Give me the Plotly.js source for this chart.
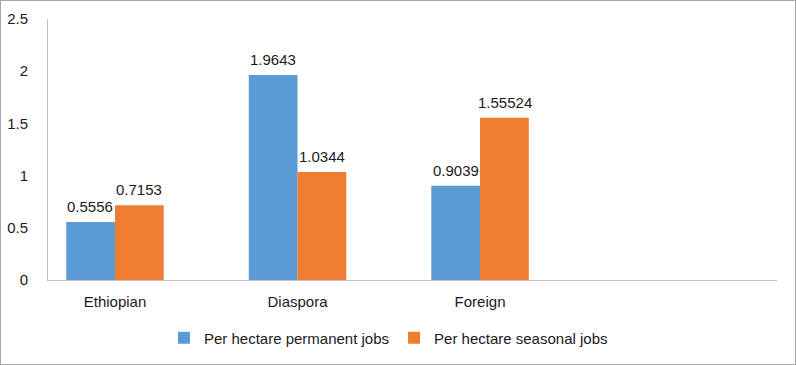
<!DOCTYPE html>
<html>
<head>
<meta charset="utf-8">
<script src="https://cdn.plot.ly/plotly-3.0.1.min.js"></script>
<style>
html,body{margin:0;padding:0;background:#fff;}
#frame{position:absolute;left:0;top:0;width:794px;height:363px;border:1px solid #a6a6a6;}
#chart{position:absolute;left:-1px;top:-1px;width:796px;height:365px;}
</style>
</head>
<body>
<div id="frame"><div id="chart"></div></div>
<script>
const categories = ["Ethiopian", "Diaspora", "Foreign"];
const permanentJobs = [0.5556, 1.9643, 0.9039];
const seasonalJobs = [0.7153, 1.0344, 1.55524];
const permanentLabels = ["0.5556", "1.9643", "0.9039"];
const seasonalLabels = ["0.7153", "1.0344", "1.55524"];
const seriesNames = ["Per hectare permanent jobs", "Per hectare seasonal jobs"];
const yTicks = [0, 0.5, 1, 1.5, 2, 2.5];
const yTickText = ["0", "0.5", "1", "1.5", "2", "2.5"];

const font = {family: "Liberation Sans, Arial, sans-serif", size: 15, color: "#1a1a1a"};

const traces = [
  {type: "bar", name: seriesNames[0], x: categories, y: permanentJobs,
   marker: {color: "#5b9bd5"}, hoverinfo: "none"},
  {type: "bar", name: seriesNames[1], x: categories, y: seasonalJobs,
   marker: {color: "#ed7d31"}, hoverinfo: "none"}
];

// data labels above each bar, offset by half a bar slot within the group
const annotations = [];
categories.forEach((c, i) => {
  annotations.push({x: i, y: permanentJobs[i], text: permanentLabels[i], xref: "x", yref: "y",
    showarrow: false, yanchor: "bottom", xshift: -24.5, yshift: 5, font: font});
  annotations.push({x: i, y: seasonalJobs[i], text: seasonalLabels[i], xref: "x", yref: "y",
    showarrow: false, yanchor: "bottom", xshift: 24.5, yshift: 5, font: font});
});

const layout = {
  width: 796, height: 365,
  margin: {l: 48, r: 19, t: 19, b: 84, pad: 0},
  paper_bgcolor: "rgba(0,0,0,0)", plot_bgcolor: "#fff",
  font: font,
  barmode: "group", bargap: 0.466, bargroupgap: 0,
  showlegend: true,
  legend: {orientation: "h", x: 0.467, xanchor: "center", y: -0.218, yanchor: "middle",
           font: font, itemwidth: 30, traceorder: "normal"},
  annotations: annotations,
  xaxis: {type: "category", range: [-0.367, 3.627], showgrid: false, zeroline: false,
          showline: true, linecolor: "#bfbfbf", linewidth: 1, ticks: "",
          ticklabelstandoff: 8, tickfont: font},
  yaxis: {range: [0, 2.5], tickvals: yTicks, ticktext: yTickText, showgrid: false,
          zeroline: false, showline: true, linecolor: "#bfbfbf", linewidth: 1,
          ticks: "", ticklabelstandoff: 16, tickfont: font}
};

Plotly.newPlot("chart", traces, layout, {displayModeBar: false, staticPlot: true});
</script>
</body>
</html>
